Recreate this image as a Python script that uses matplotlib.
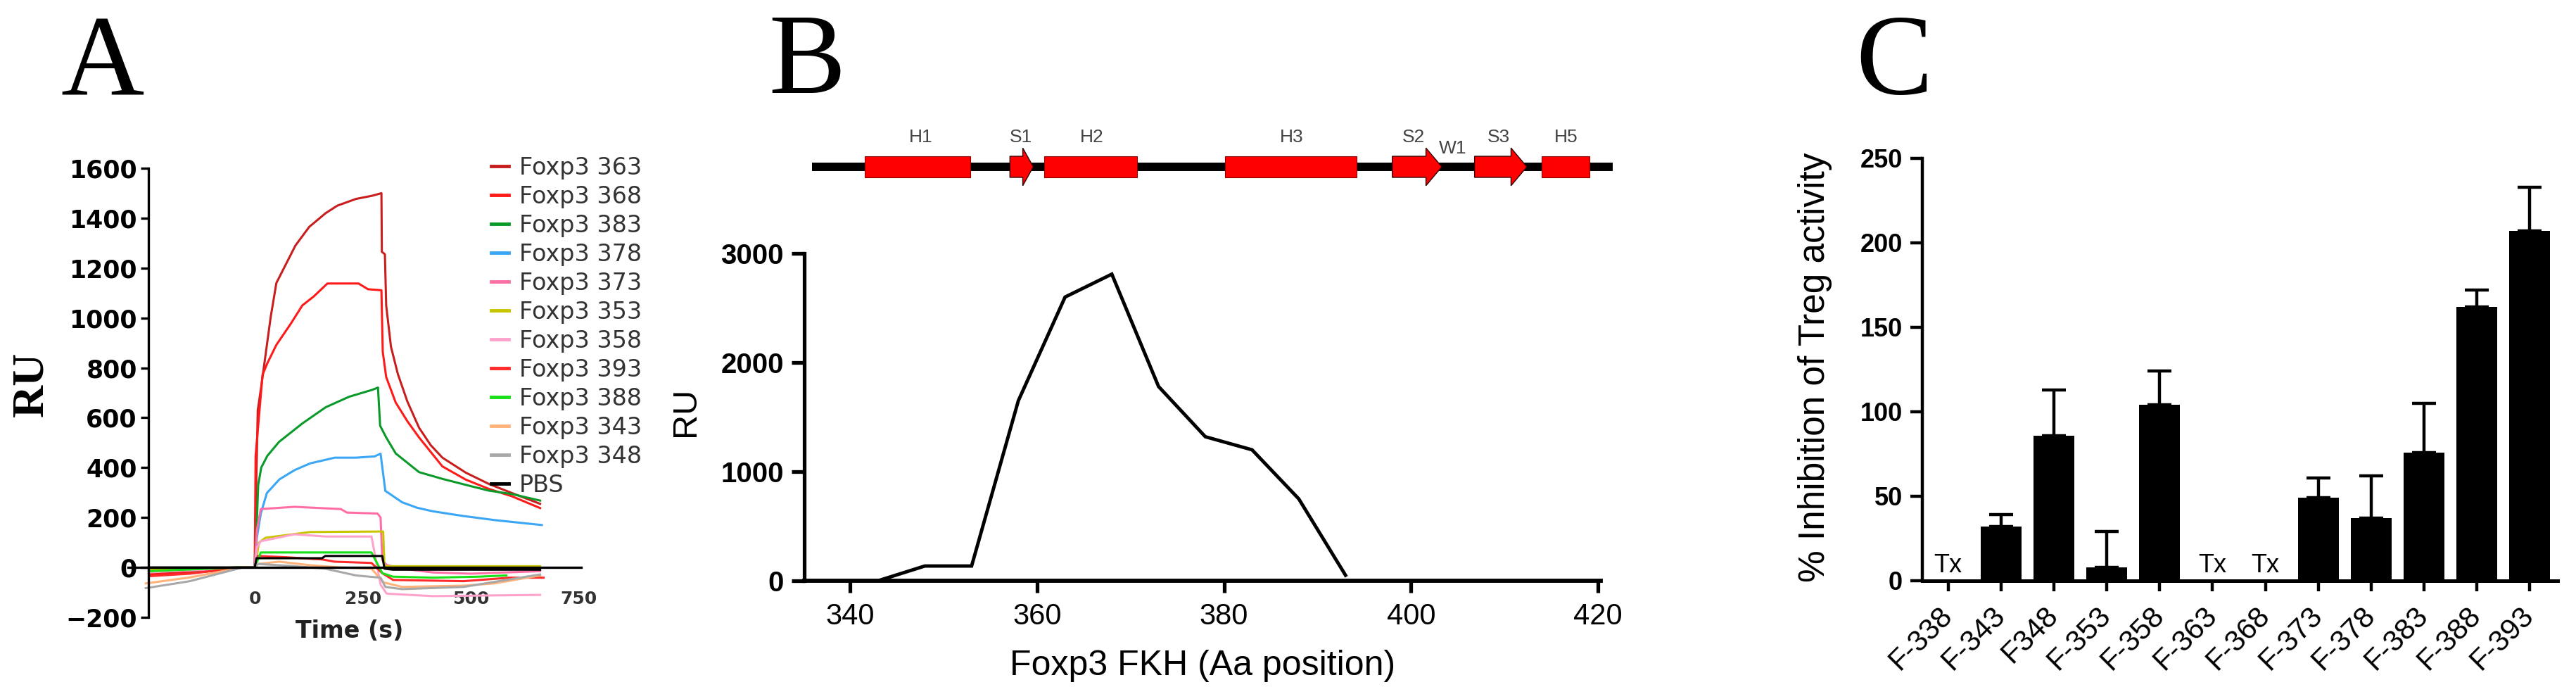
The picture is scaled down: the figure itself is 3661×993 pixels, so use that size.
import matplotlib
matplotlib.use('Agg')
import matplotlib.pyplot as plt
from matplotlib import font_manager
from matplotlib.patches import Rectangle, Polygon

W, H = 3661, 993


def pick_font(*names):
    for n in names:
        try:
            font_manager.findfont(n, fallback_to_default=False)
            return n
        except ValueError:
            pass
    return 'DejaVu Sans'


SANS = pick_font('Liberation Sans', 'Arial')
SERIF = pick_font('Liberation Serif', 'DejaVu Serif')


def px_rect(x0, y0, x1, y1):
    # figure pixel box -> add_axes rect
    return [x0 / W, 1 - y1 / H, (x1 - x0) / W, (y1 - y0) / H]


def fxy(x, y):
    return x / W, 1 - y / H


# ---------------- panel A: sensorgrams ----------------
t_363 = [-245, -150, -60, -30, 0, 3, 7, 15, 26, 37, 50, 72, 94, 126, 164, 191, 234, 272, 293,
         294, 301, 304, 315, 331, 353, 380, 407, 434, 488, 541, 595, 660]
ru_363 = [-25, -20, -10, 0, 0, 300, 630, 725, 865, 1005, 1140, 1215, 1290, 1365, 1420, 1450, 1477, 1490, 1500,
          1265, 1255, 1050, 885, 775, 665, 560, 490, 440, 380, 335, 298, 255]
t_368 = [-245, -150, -60, -30, 0, 2, 18, 29, 50, 83, 110, 137, 168, 240, 262, 293,
         296, 304, 326, 353, 380, 434, 488, 541, 595, 660]
ru_368 = [-30, -22, -8, 0, 0, 447, 772, 818, 892, 976, 1050, 1087, 1138, 1138, 1115, 1111,
          865, 763, 661, 586, 521, 405, 352, 315, 285, 238]
t_383 = [-245, -120, -40, 0, 3, 8, 15, 29, 56, 110, 164, 218, 272, 285,
         290, 304, 326, 380, 434, 488, 541, 595, 660]
ru_383 = [-15, -10, 0, 0, 100, 330, 400, 447, 503, 577, 642, 684, 712, 721,
          568, 521, 457, 382, 355, 331, 308, 294, 268]
t_378 = [-245, -120, -40, 0, 5, 14, 28, 57, 92, 128, 185, 234, 277, 291,
         302, 341, 376, 412, 483, 554, 625, 664]
ru_378 = [-10, -5, 0, 0, 120, 216, 298, 353, 390, 417, 440, 440, 445, 456,
          307, 261, 239, 225, 206, 190, 177, 170]
t_373 = [-245, -120, -40, 0, 5, 14, 92, 199, 213, 284, 291, 295, 305, 341, 412, 500, 660]
ru_373 = [-15, -10, 0, 0, 150, 234, 243, 234, 220, 216, 200, 30, 10, -5, -20, -25, -15]
t_353 = [-245, -40, 0, 10, 25, 128, 291, 297, 300, 660]
ru_353 = [-10, 0, 0, 100, 119, 142, 144, 144, 5, 5]
t_358 = [-245, -40, 0, 5, 14, 92, 163, 270, 277, 291, 305, 412, 660]
ru_358 = [-20, 0, 0, 80, 105, 133, 124, 124, 60, -69, -105, -115, -110]
t_393 = [-245, -150, -30, 0, 7, 71, 156, 185, 270, 295, 320, 483, 590, 668]
ru_393 = [-35, -25, 0, 0, 46, 41, 32, 23, 18, -23, -50, -55, -41, -41]
t_388 = [-245, -40, 0, 14, 270, 295, 320, 412, 518, 582]
ru_388 = [-15, 0, 0, 60, 60, -23, -37, -41, -37, -32]
t_343 = [-252, -150, -28, 0, 7, 57, 128, 199, 270, 298, 341, 483, 554, 660]
ru_343 = [-64, -40, 0, 0, 14, 23, 9, 0, -5, -60, -78, -73, -64, -32]
t_348 = [-252, -150, -28, 0, 7, 92, 163, 234, 291, 302, 341, 483, 660]
ru_348 = [-83, -55, 0, 0, 14, 5, -5, -32, -41, -78, -87, -78, -28]
t_pbs = [-245, 0, 4, 156, 163, 295, 300, 320, 660]
ru_pbs = [0, 0, 37, 37, 46, 46, -5, -9, -9]

a_names = ['Foxp3 363', 'Foxp3 368', 'Foxp3 383', 'Foxp3 378', 'Foxp3 373', 'Foxp3 353',
           'Foxp3 358', 'Foxp3 393', 'Foxp3 388', 'Foxp3 343', 'Foxp3 348', 'PBS']
a_colors = ['#c81e1e', '#ff1a1a', '#0a9a2a', '#3aa6f5', '#ff6fa6', '#c8c400',
            '#ffa3cc', '#ff2a2a', '#18e018', '#ffb27a', '#a8a8a8', '#000000']
a_series = [(t_363, ru_363), (t_368, ru_368), (t_383, ru_383), (t_378, ru_378),
            (t_373, ru_373), (t_353, ru_353), (t_358, ru_358), (t_393, ru_393),
            (t_388, ru_388), (t_343, ru_343), (t_348, ru_348), (t_pbs, ru_pbs)]

# ---------------- panel B: binding vs position ----------------
b_pos = [343, 348, 353, 358, 363, 368, 373, 378, 383, 388, 393]
b_ru = [0, 135, 135, 1650, 2600, 2810, 1780, 1320, 1200, 750, 50]

# secondary structure of the FKH domain (aa positions)
dom_names = ['H1', 'S1', 'H2', 'H3', 'S2', 'S3', 'H5']
dom_start = [341.6, 357.1, 360.8, 380.1, 398.0, 406.8, 414.0]
dom_end = [352.9, 359.6, 370.7, 394.2, 403.3, 412.4, 419.1]
dom_kind = ['helix', 'strand', 'helix', 'helix', 'strand', 'strand', 'helix']
dom_label_x = [347.6, 358.3, 365.9, 387.2, 400.3, 409.4, 416.6]

# ---------------- panel C: Treg inhibition ----------------
c_labels = ['F-338', 'F-343', 'F348', 'F-353', 'F-358', 'F-363',
            'F-368', 'F-373', 'F-378', 'F-383', 'F-388', 'F-393']
c_values = [0, 32, 86, 8, 104, 0, 0, 49, 37, 76, 162, 207]
c_err = [0, 7, 27, 21, 20, 0, 0, 12, 25, 29, 10, 26]
c_toxic = ['F-338', 'F-363', 'F-368']

fig = plt.figure(figsize=(W / 100, H / 100), dpi=100)
fig.patch.set_facecolor('white')

# ======== A ========
axA = fig.add_axes(px_rect(182, 239, 826, 877))
for (tt, rr), col, name in zip(a_series, a_colors, a_names):
    axA.plot(tt, rr, color=col, lw=2.2, label=name, zorder=3 if name == 'PBS' else 2)
axA.set_xlim(-293, 755)
axA.set_ylim(-200, 1600)
axA.spines['top'].set_visible(False)
axA.spines['right'].set_visible(False)
axA.spines['left'].set_position(('data', -245))
axA.spines['bottom'].set_position(('data', 0))
axA.spines['left'].set_linewidth(2.4)
axA.spines['bottom'].set_linewidth(2.4)
axA.set_yticks(range(-200, 1601, 200))
axA.set_xticks([0, 250, 500, 750])
axA.tick_params(axis='y', length=8, width=2.4, pad=4, labelsize=25)
axA.tick_params(axis='x', length=0, pad=24, labelsize=18, labelcolor='#333333')
for lab in axA.get_yticklabels() + axA.get_xticklabels():
    lab.set_fontweight('bold')
leg = axA.legend(loc='upper left', bbox_to_anchor=fxy(698, 222), bbox_transform=fig.transFigure,
                 frameon=False, fontsize=24, handlelength=0.75, handletextpad=0.45,
                 labelspacing=0.24, borderpad=0, borderaxespad=0)
for txt in leg.get_texts():
    txt.set_color('#333333')
for ln in leg.get_lines():
    ln.set_linewidth(3.5)
fig.text(*fxy(497, 897), 'Time (s)', ha='center', va='center', fontsize=24, fontweight='bold', color='#222222')
fig.text(*fxy(45, 546), 'RU', ha='center', va='center', rotation=90, fontsize=46,
         family=SERIF, fontweight='bold')
fig.text(*fxy(86, 134), 'A', ha='left', va='baseline', fontsize=118, family=SERIF)

# ======== B ========
axB = fig.add_axes(px_rect(1143, 360, 2275, 825))
axB.plot(b_pos, b_ru, color='black', lw=3.5, solid_joinstyle='miter')
axB.set_xlim(335.1, 420.3)
axB.set_ylim(0, 3000)
axB.spines['top'].set_visible(False)
axB.spines['right'].set_visible(False)
axB.spines['left'].set_linewidth(3.8)
axB.spines['bottom'].set_linewidth(4.2)
axB.set_yticks([0, 1000, 2000, 3000])
axB.set_xticks([340, 360, 380, 400, 420])
axB.tick_params(axis='y', length=13, width=3.8, pad=8, labelsize=29)
axB.tick_params(axis='x', length=12, width=3.8, pad=10, labelsize=30)
for lab in axB.get_yticklabels():
    lab.set_family(SANS)
    lab.set_fontweight('bold')
for lab in axB.get_xticklabels():
    lab.set_family(SANS)
axB.set_xlabel('Foxp3 FKH (Aa position)', fontsize=36, labelpad=20, family=SANS)
fig.text(*fxy(975, 585), 'RU', ha='center', va='center', rotation=90, fontsize=35, family=SANS)
fig.text(*fxy(1092, 132), 'B', ha='left', va='baseline', fontsize=118, family=SERIF)

# domain map above panel B, same aa scale
axD = fig.add_axes(px_rect(1143, 180, 2275, 294))
axD.set_xlim(335.1, 420.3)
axD.set_ylim(-1, 1)
axD.axis('off')
axD.plot([335.9, 421.6], [0, 0], color='black', lw=8.6, solid_capstyle='butt', clip_on=False)
hb, hh = 0.263, 0.47
for name, s, e, kind, lx in zip(dom_names, dom_start, dom_end, dom_kind, dom_label_x):
    if kind == 'helix':
        axD.add_patch(Rectangle((s, -hb), e - s, 2 * hb, facecolor='#ff0000', edgecolor='#8a0000',
                                lw=0.8, clip_on=False, zorder=3))
    else:
        xh = e - min(1.7, 0.45 * (e - s))
        pts = [(s, -hb), (xh, -hb), (xh, -hh), (e, 0), (xh, hh), (xh, hb), (s, hb)]
        axD.add_patch(Polygon(pts, closed=True, facecolor='#ff0000', edgecolor='#300000',
                              lw=1.0, clip_on=False, zorder=3))
    axD.text(lx, 0.74, name, ha='center', va='center', fontsize=19, color='#444444', family=SANS)
axD.text(404.5, 0.46, 'W1', ha='center', va='center', fontsize=19, color='#444444', family=SANS)

# ======== C ========
axC = fig.add_axes(px_rect(2732, 225, 3635, 825))
xs = list(range(len(c_labels)))
axC.bar(xs, c_values, width=0.77, color='black', zorder=2)
ex = [x for x, e in zip(xs, c_err) if e > 0]
ev = [v for v, e in zip(c_values, c_err) if e > 0]
ee = [e for e in c_err if e > 0]
axC.errorbar(ex, ev, yerr=[[0] * len(ee), ee], fmt='none', ecolor='black',
             elinewidth=3.2, capsize=12, capthick=3.2, zorder=3)
for x, lab in zip(xs, c_labels):
    if lab in c_toxic:
        axC.text(x, 1.5, 'Tx', ha='center', va='bottom', family=SANS, fontsize=26)
axC.set_xlim(-0.49, 11.53)
axC.set_ylim(0, 250)
axC.spines['top'].set_visible(False)
axC.spines['right'].set_visible(False)
axC.spines['left'].set_linewidth(3.2)
axC.spines['bottom'].set_linewidth(3.6)
axC.set_yticks(range(0, 251, 50))
axC.set_xticks(xs)
axC.set_xticklabels(c_labels, rotation=45, ha='right', va='center', rotation_mode='anchor')
axC.tick_params(axis='y', length=12, width=3.2, pad=8, labelsize=26)
axC.tick_params(axis='x', length=11, width=3.2, pad=20, labelsize=30)
for lab in axC.get_yticklabels():
    lab.set_family(SANS)
    lab.set_fontweight('bold')
for lab in axC.get_xticklabels():
    lab.set_family(SANS)
fig.text(*fxy(2579, 522), '% Inhibition of Treg activity', ha='center', va='center',
         rotation=90, fontsize=37, family=SANS)
fig.text(*fxy(2637, 133), 'C', ha='left', va='baseline', fontsize=118, family=SERIF)

fig.savefig('out.png', dpi=100, facecolor='white')
